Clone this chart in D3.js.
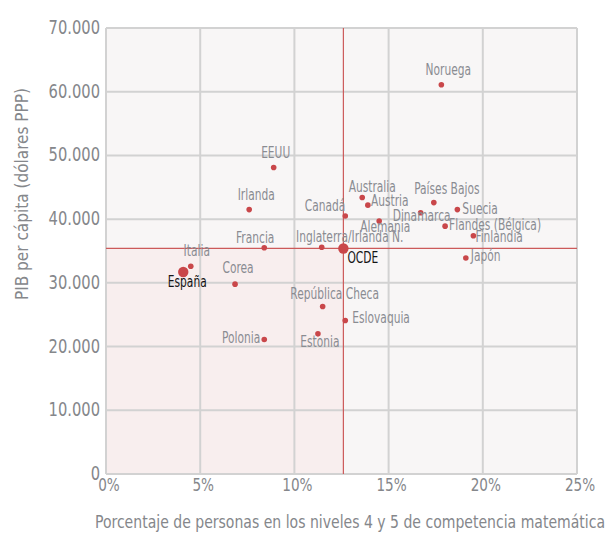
<!DOCTYPE html>
<html>
<head>
<meta charset="utf-8">
<script src="https://cdn.jsdelivr.net/npm/d3@7.9.0/dist/d3.min.js"></script>
<style>
  body { margin: 0; background: #fff; }
  svg text { font-family: "Liberation Sans Narrow", "DejaVu Sans Condensed", "DejaVu Sans", sans-serif; }
</style>
</head>
<body>
<svg></svg>
<script>
const width = 610;
const height = 533;
const margin = { top: 28, right: 33, bottom: 59, left: 106 };

// data
const countries = ["Noruega", "EEUU", "Irlanda", "Francia", "Italia", "España", "Corea", "Polonia",
  "Estonia", "República Checa", "Eslovaquia", "Inglaterra/Irlanda N.", "Canadá", "Australia",
  "Austria", "Alemania", "Dinamarca", "Países Bajos", "Suecia", "Flandes (Bélgica)", "Finlandia",
  "Japón", "OCDE"];
const pctLevel45 = [17.8, 8.9, 7.6, 8.4, 4.5, 4.1, 6.85, 8.4,
  11.25, 11.5, 12.7, 11.45, 12.7, 13.6,
  13.9, 14.5, 16.7, 17.4, 18.65, 18.0, 19.5,
  19.1, 12.6];
const gdpPerCapita = [61100, 48100, 41500, 35500, 32600, 31700, 29800, 21100,
  22000, 26300, 24100, 35600, 40500, 43400,
  42200, 39700, 41000, 42600, 41500, 38900, 37400,
  33900, 35400];
const highlighted = ["España", "OCDE"];
const xTicks = [0, 5, 10, 15, 20, 25];
const yTicks = [0, 10000, 20000, 30000, 40000, 50000, 60000, 70000];

// label placement: [dx, dy, anchor]
const labelPlace = {
  "Noruega": [7, -10, "middle"], "EEUU": [2, -10, "middle"], "Irlanda": [7, -10, "middle"],
  "Francia": [-9, -5, "middle"], "Italia": [6, -10, "middle"], "España": [4, 15, "middle"],
  "Corea": [3, -11, "middle"], "Polonia": [-4, 3, "end"], "Estonia": [2, 13, "middle"],
  "República Checa": [12, -7, "middle"], "Eslovaquia": [7, 3, "start"],
  "Inglaterra/Irlanda N.": [28, -5, "middle"], "Canadá": [0, -5, "end"],
  "Australia": [10, -5, "middle"], "Austria": [3, 1, "start"], "Alemania": [6, 11, "middle"],
  "Dinamarca": [1, 8, "middle"], "Países Bajos": [13, -9, "middle"], "Suecia": [5, 4, "start"],
  "Flandes (Bélgica)": [4, 4, "start"], "Finlandia": [2, 6, "start"], "Japón": [5, 3, "start"],
  "OCDE": [4, 15, "start"]
};

const points = countries.map((c, i) => ({ name: c, x: pctLevel45[i], y: gdpPerCapita[i] }));
const oecd = points.find(d => d.name === "OCDE");

const svg = d3.select("svg").attr("width", width).attr("height", height);

const x = d3.scaleLinear().domain([0, 25]).range([margin.left, width - margin.right]);
const y = d3.scaleLinear().domain([0, 70000]).range([height - margin.bottom, margin.top]);

const esLocale = d3.formatLocale({ decimal: ",", thousands: ".", grouping: [3], currency: ["", " €"] });
const fmtY = esLocale.format(",d");

// no narrow font here, so squeeze the glyphs to look condensed
function squeeze(sel, k) {
  sel.each(function () {
    const w = this.getComputedTextLength();
    d3.select(this).attr("textLength", w * k).attr("lengthAdjust", "spacingAndGlyphs");
  });
}

// backgrounds
svg.append("rect")
  .attr("x", x(0)).attr("y", y(70000))
  .attr("width", x(25) - x(0)).attr("height", y(0) - y(70000))
  .attr("fill", "#f8f6f6");
svg.append("rect")
  .attr("x", x(0)).attr("y", y(oecd.y))
  .attr("width", x(oecd.x) - x(0)).attr("height", y(0) - y(oecd.y))
  .attr("fill", "#f8eeee");

// grid
const grid = svg.append("g").attr("stroke", "#d2d2d2").attr("stroke-width", 2);
grid.selectAll(".gx").data(xTicks).join("line")
  .attr("x1", d => x(d)).attr("x2", d => x(d))
  .attr("y1", y(0)).attr("y2", y(70000));
grid.selectAll(".gy").data(yTicks).join("line")
  .attr("x1", x(0)).attr("x2", x(25))
  .attr("y1", d => y(d)).attr("y2", d => y(d));

// OCDE reference lines
svg.append("line")
  .attr("x1", x(oecd.x)).attr("x2", x(oecd.x))
  .attr("y1", y(0)).attr("y2", y(70000))
  .attr("stroke", "#cc5a5a").attr("stroke-width", 1.2);
svg.append("line")
  .attr("x1", x(0)).attr("x2", x(25))
  .attr("y1", y(oecd.y)).attr("y2", y(oecd.y))
  .attr("stroke", "#cc5a5a").attr("stroke-width", 1.2);

// axis tick labels
svg.append("g").selectAll("text").data(yTicks).join("text")
  .attr("x", x(0) - 6)
  .attr("y", d => y(d) + 6)
  .attr("text-anchor", "end")
  .attr("font-size", 19)
  .attr("fill", "#85878b")
  .text(d => fmtY(d))
  .call(squeeze, 0.86);

svg.append("g").selectAll("text").data(xTicks).join("text")
  .attr("x", d => x(d) + 3)
  .attr("y", y(0) + 17)
  .attr("text-anchor", "middle")
  .attr("font-size", 18)
  .attr("fill", "#85878b")
  .text(d => d + "%")
  .call(squeeze, 0.84);

// axis titles
svg.append("text")
  .attr("transform", "translate(28,194) rotate(-90)")
  .attr("text-anchor", "middle")
  .attr("font-size", 18)
  .attr("fill", "#85878b")
  .attr("textLength", 212).attr("lengthAdjust", "spacingAndGlyphs")
  .text("PIB per cápita (dólares PPP)");

svg.append("text")
  .attr("x", 350).attr("y", 528)
  .attr("text-anchor", "middle")
  .attr("font-size", 18)
  .attr("fill", "#85878b")
  .attr("textLength", 510).attr("lengthAdjust", "spacingAndGlyphs")
  .text("Porcentaje de personas en los niveles 4 y 5 de competencia matemática");

// dots
svg.append("g").selectAll("circle").data(points).join("circle")
  .attr("cx", d => x(d.x))
  .attr("cy", d => y(d.y))
  .attr("r", d => highlighted.includes(d.name) ? 5.2 : 2.8)
  .attr("fill", "#c9474a");

// labels
svg.append("g").selectAll("text").data(points).join("text")
  .attr("x", d => x(d.x) + labelPlace[d.name][0])
  .attr("y", d => y(d.y) + labelPlace[d.name][1])
  .attr("text-anchor", d => labelPlace[d.name][2])
  .attr("font-size", 15)
  .attr("fill", d => highlighted.includes(d.name) ? "#151515" : "#8a8c92")
  .text(d => d.name)
  .call(squeeze, 0.79);
</script>
</body>
</html>
